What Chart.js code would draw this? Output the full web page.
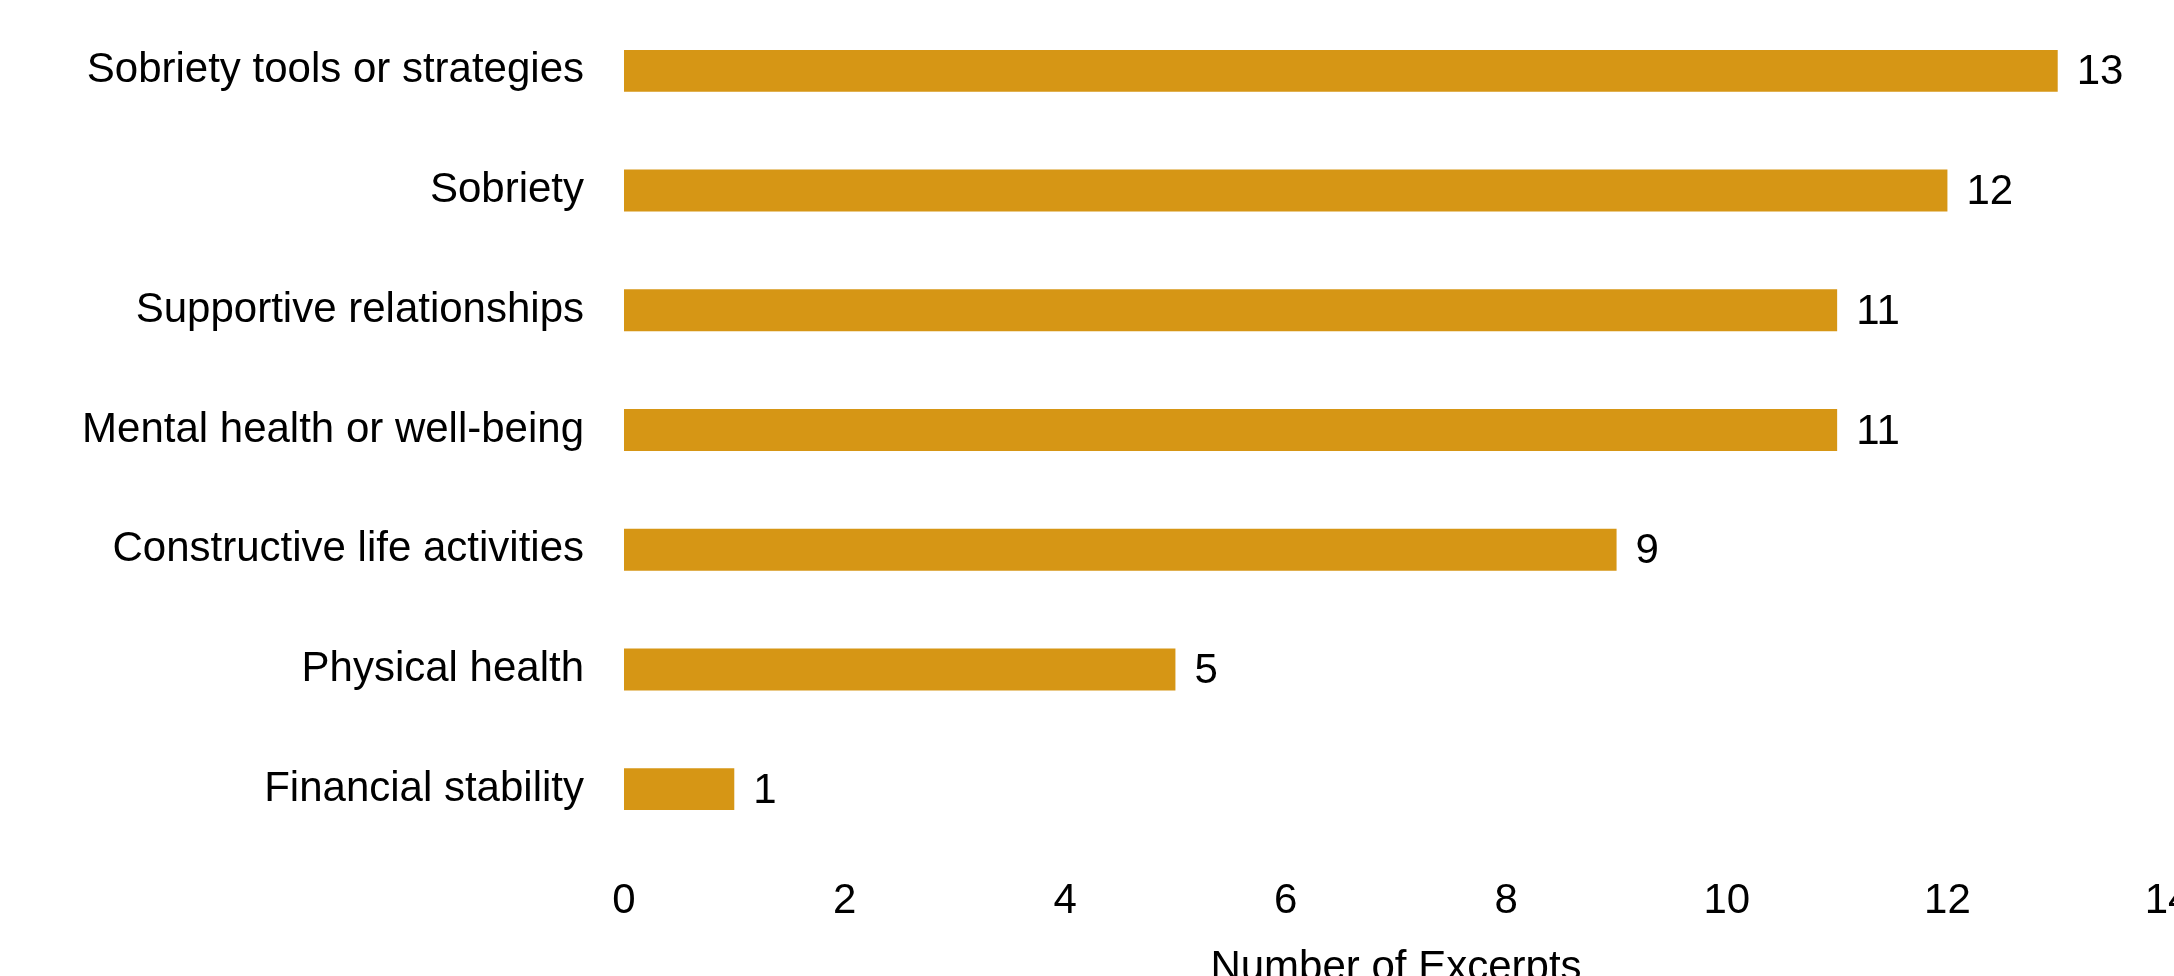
<!DOCTYPE html>
<html lang="en">
<head>
    <meta charset="UTF-8">
    <title>Number of Excerpts</title>
    <style>
        html, body {
            margin: 0;
            padding: 0;
            background: #ffffff;
            overflow: hidden;
        }
        canvas {
            display: block;
        }
    </style>
</head>
<body>
    <canvas id="excerptChart" width="2174" height="976"></canvas>

    <script src="https://cdn.jsdelivr.net/npm/chart.js"></script>
    <script>
        // Data
        const categories = [
            'Sobriety tools or strategies',
            'Sobriety',
            'Supportive relationships',
            'Mental health or well-being',
            'Constructive life activities',
            'Physical health',
            'Financial stability'
        ];
        const excerptCounts = [13, 12, 11, 11, 9, 5, 1];
        const xTicks = [0, 2, 4, 6, 8, 10, 12, 14];
        const xTitle = 'Number of Excerpts';

        const fontFamily = '"Liberation Sans", Arial, sans-serif';
        const barColor = '#D69615';

        // Writes the count just right of each bar
        const valueLabels = {
            id: 'valueLabels',
            afterDatasetsDraw(chart) {
                const { ctx } = chart;
                const meta = chart.getDatasetMeta(0);
                ctx.save();
                ctx.font = '42px ' + fontFamily;
                ctx.fillStyle = '#000000';
                ctx.textAlign = 'left';
                ctx.textBaseline = 'middle';
                meta.data.forEach((bar, i) => {
                    ctx.fillText(String(excerptCounts[i]), bar.x + 19, bar.y + 2);
                });
                ctx.restore();
            }
        };

        const ctx = document.getElementById('excerptChart').getContext('2d');

        const chart = new Chart(ctx, {
            type: 'bar',
            data: {
                labels: categories,
                datasets: [{
                    data: excerptCounts,
                    backgroundColor: barColor,
                    borderWidth: 0,
                    categoryPercentage: 1,
                    barPercentage: 0.35
                }]
            },
            options: {
                indexAxis: 'y',
                responsive: false,
                animation: false,
                layout: {
                    padding: { top: 11, left: 0, right: 6, bottom: 0 }
                },
                plugins: {
                    legend: { display: false },
                    tooltip: { enabled: false }
                },
                scales: {
                    x: {
                        min: 0,
                        max: 14,
                        grid: { display: false, drawTicks: false },
                        border: { display: false },
                        afterBuildTicks(scale) {
                            scale.ticks = xTicks.map(v => ({ value: v }));
                        },
                        // fixed height so the title runs off the bottom edge, "14" off the right
                        afterFit(scale) {
                            scale.height = 127;
                            scale.paddingLeft = 0;
                            scale.paddingRight = 0;
                        },
                        ticks: {
                            color: '#000000',
                            padding: 27,
                            maxRotation: 0,
                            font: { family: fontFamily, size: 42 }
                        },
                        title: {
                            display: true,
                            text: xTitle,
                            color: '#000000',
                            padding: { top: 0, bottom: -18 },
                            font: { family: fontFamily, size: 42 }
                        }
                    },
                    y: {
                        grid: { display: false, drawTicks: false },
                        border: { display: false },
                        afterFit(scale) {
                            scale.width = 624;
                            scale.paddingTop = 0;
                            scale.paddingBottom = 0;
                        },
                        ticks: {
                            color: '#000000',
                            padding: 40,
                            font: { family: fontFamily, size: 42 }
                        }
                    }
                }
            },
            plugins: [valueLabels]
        });
    </script>
</body>
</html>
